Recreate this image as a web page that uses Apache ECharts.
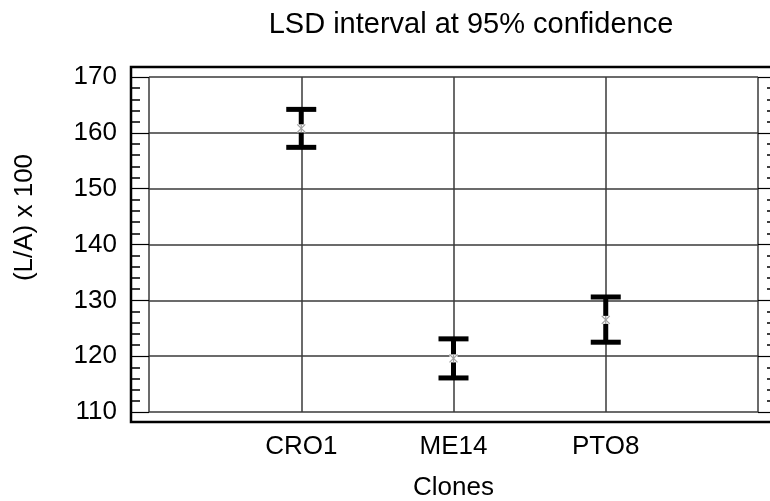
<!DOCTYPE html>
<html>
<head>
<meta charset="utf-8">
<script src="https://cdn.jsdelivr.net/npm/echarts@6/dist/echarts.min.js"></script>
<style>
  html, body { margin: 0; padding: 0; background: #fff; }
  #chart { width: 770px; height: 501px; }
</style>
</head>
<body>
<div id="chart"></div>
<script>
var chart = echarts.init(document.getElementById('chart'));

// clones on the x axis (blank slots at both ends of the axis)
var clones = ['CRO1', 'ME14', 'PTO8'];
var lowerLimit = [157.4, 116.1, 122.5];
var upperLimit = [164.2, 123.1, 130.6];
var means = [160.8, 119.6, 126.5];
var yMin = 110, yMax = 170, yStep = 10;

var axisCats = [''].concat(clones, ['']);
var font = 'Liberation Sans, Arial, Helvetica, sans-serif';

var barData = clones.map(function (c, i) {
  return [c, lowerLimit[i], upperLimit[i], means[i]];
});

function renderBar(params, api) {
  var lo = api.coord([api.value(0), api.value(1)]);
  var hi = api.coord([api.value(0), api.value(2)]);
  var mid = api.coord([api.value(0), api.value(3)]);
  var half = 15, s = 4;
  var black = { stroke: '#000', lineWidth: 5 };
  var grey = { stroke: '#a0a0a0', lineWidth: 1.3 };
  return {
    type: 'group',
    children: [
      { type: 'line', shape: { x1: hi[0], y1: hi[1], x2: lo[0], y2: lo[1] }, style: black },
      { type: 'line', shape: { x1: hi[0] - half, y1: hi[1], x2: hi[0] + half, y2: hi[1] }, style: black },
      { type: 'line', shape: { x1: lo[0] - half, y1: lo[1], x2: lo[0] + half, y2: lo[1] }, style: black },
      { type: 'rect', shape: { x: mid[0] - s, y: mid[1] - s, width: 2 * s, height: 2 * s }, style: { fill: '#fff' } },
      { type: 'line', shape: { x1: mid[0] - s, y1: mid[1] - s, x2: mid[0] + s, y2: mid[1] + s }, style: grey },
      { type: 'line', shape: { x1: mid[0] - s, y1: mid[1] + s, x2: mid[0] + s, y2: mid[1] - s }, style: grey },
      { type: 'line', shape: { x1: mid[0], y1: mid[1] - s, x2: mid[0], y2: mid[1] + s }, style: grey }
    ]
  };
}

var option = {
  backgroundColor: '#fff',
  animation: false,
  textStyle: { fontFamily: font, color: '#000' },
  title: {
    text: 'LSD interval at 95% confidence',
    left: 466,
    textAlign: 'center',
    top: 5,
    textStyle: { fontFamily: font, fontSize: 29, fontWeight: 'normal', color: '#000' }
  },
  grid: [
    { left: 149, right: 12, top: 77, bottom: 89, outerBoundsMode: 'none' },
    // outer frame
    { left: 131, right: -8, top: 67, bottom: 79, outerBoundsMode: 'none', show: true, borderColor: '#000', borderWidth: 2.5, backgroundColor: 'transparent' }
  ],
  xAxis: [
    {
      type: 'category',
      gridIndex: 0,
      data: axisCats,
      boundaryGap: false,
      axisLine: { show: false },
      axisTick: { show: false },
      axisLabel: { interval: 0, fontSize: 26, color: '#000', margin: 22, fontFamily: font },
      splitLine: { show: true, interval: 0, lineStyle: { color: '#3a3a3a', width: 1.5 } },
      name: 'Clones',
      nameLocation: 'middle',
      nameGap: 63,
      nameTextStyle: { fontSize: 26, color: '#000', fontFamily: font }
    },
    { type: 'value', gridIndex: 1, show: false }
  ],
  yAxis: [
    {
      type: 'value',
      gridIndex: 0,
      min: yMin, max: yMax, interval: yStep,
      offset: 18,
      axisLine: { show: false },
      axisTick: { show: true, inside: true, length: 18, lineStyle: { color: '#000', width: 1.2 } },
      minorTick: { show: true, splitNumber: 5, length: 9, lineStyle: { color: '#000', width: 1.5 } },
      axisLabel: { fontSize: 26, color: '#000', margin: 14, fontFamily: font },
      splitLine: { show: true, lineStyle: { color: '#3a3a3a', width: 1.5 } },
      name: '(L/A) x 100',
      nameLocation: 'middle',
      nameRotate: 90,
      nameGap: 93,
      nameTextStyle: { fontSize: 26, color: '#000', fontFamily: font, padding: [0, 0, 0, 54] }
    },
    {
      type: 'value',
      gridIndex: 0,
      position: 'right',
      min: yMin, max: yMax, interval: yStep,
      offset: 18,
      axisLine: { show: false },
      axisTick: { show: true, inside: true, length: 18, lineStyle: { color: '#000', width: 1.2 } },
      minorTick: { show: true, splitNumber: 5, length: 9, lineStyle: { color: '#000', width: 1.5 } },
      axisLabel: { show: false },
      splitLine: { show: false }
    },
    { type: 'value', gridIndex: 1, show: false }
  ],
  series: [
    {
      type: 'custom',
      xAxisIndex: 0,
      yAxisIndex: 0,
      renderItem: renderBar,
      encode: { x: 0, y: [1, 2] },
      data: barData,
      z: 5
    }
  ]
};

chart.setOption(option);

window.onresize = function () {
  chart.resize();
};
</script>
</body>
</html>
